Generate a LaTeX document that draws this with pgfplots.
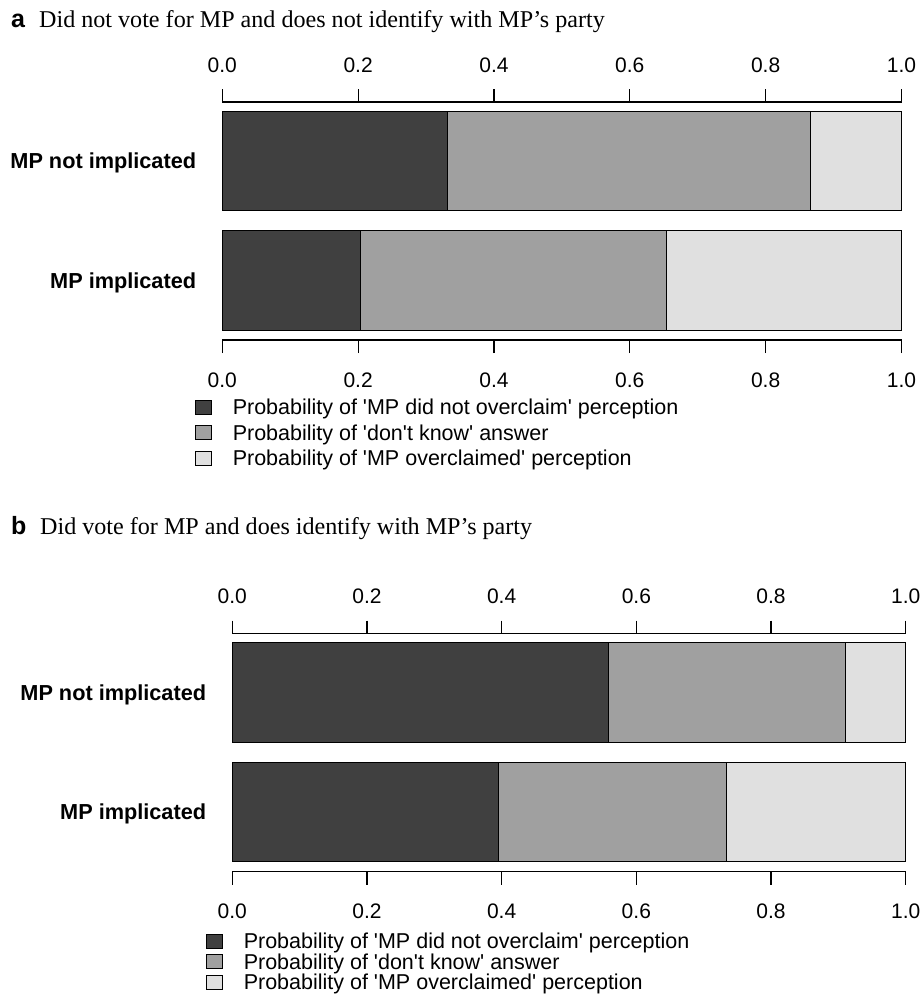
\documentclass[border=0pt]{standalone}
\usepackage{pgfplots}
\pgfplotsset{compat=1.18}
\usepackage{fontspec}
\setmainfont{Liberation Serif}
\setsansfont{Liberation Sans}
\definecolor{cdark}{RGB}{64,64,64}
\definecolor{cmid}{RGB}{160,160,160}
\definecolor{clight}{RGB}{224,224,224}
\newcommand\sq{\textquotesingle}
\pgfplotsset{
  panel/.style={scale only axis, height=238bp, xmin=0, xmax=1, ymin=0, ymax=238, clip=false,
    /pgf/number format/assume math mode=true},
  mainaxis/.style={panel,
    xbar stacked, bar width=99.5,
    separate axis lines,
    x axis line style={line width=1.2bp},
    y axis line style={draw=none},
    xtick={0,0.2,0.4,0.6,0.8,1}, xticklabels={0.0,0.2,0.4,0.6,0.8,1.0},
    xtick pos=both, tick align=outside, major tick length=13bp,
    x tick style={line width=1.2bp, black},
    xticklabel style={font=\sffamily\fontsize{21bp}{24bp}\selectfont, inner sep=0pt, anchor=north, yshift=-19.5bp},
    ytick={59.5,179}, yticklabels={MP implicated,MP not implicated},
    ytick pos=left, y tick style={draw=none},
    yticklabel style={font=\sffamily\bfseries\fontsize{21.7bp}{24bp}\selectfont, inner sep=0pt, anchor=base east, yshift=-7.7bp, xshift=-13bp},
    legend cell align=left,
  },
  topaxis/.style={panel,
    axis line style={draw=none}, tick style={draw=none}, tick align=inside, major tick length=0pt,
    xtick={0,0.2,0.4,0.6,0.8,1}, xticklabels={0.0,0.2,0.4,0.6,0.8,1.0},
    xticklabel pos=right, ytick=\empty,
    xticklabel style={font=\sffamily\fontsize{21bp}{24bp}\selectfont, inner sep=0pt, anchor=south, yshift=29.5bp},
  },
  barstyle/.style={fill=#1, draw=black, line width=1bp},
  legimgA/.style={legend image code/.code={\path[draw=none,fill=none] (0bp,-5.25bp) rectangle (37bp,20.25bp);
      \draw[##1,line width=0.9bp] (0bp,0.5bp) rectangle (16bp,14.5bp);}},
  legimgB/.style={legend image code/.code={\path[draw=none,fill=none] (0bp,-2.75bp) rectangle (37bp,17.75bp);
      \draw[##1,line width=0.9bp] (0bp,0.5bp) rectangle (16bp,14.5bp);}},
  legstyle/.style={legend style={draw=none, fill=none, inner sep=0pt, outer sep=0pt,
      row sep=0pt, column sep=0pt, at={(0,0)}, anchor=north west,
      font=\sffamily\fontsize{21.5bp}{24bp}\selectfont,
      nodes={inner sep=0pt, outer sep=0pt, text height=0pt, text depth=0pt}}},
}
\begin{document}
\begin{tikzpicture}
\path[use as bounding box] (0,0) rectangle (924bp,-1003bp);
% ---------- panel a ----------
\node[anchor=base west, inner sep=0pt] at (11bp,-27bp) {\sffamily\bfseries\fontsize{25bp}{28bp}\selectfont a};
\node[anchor=base west, inner sep=0pt] at (39bp,-27bp) {\fontsize{24.1bp}{27bp}\selectfont Did not vote for MP and does not identify with MP’s party};
\begin{axis}[mainaxis, legstyle, at={(222.3bp,-340bp)}, anchor=south west, width=679.2bp,
  legend style={xshift=-27bp, yshift=-54.25bp}]
\addplot[barstyle=cdark, legimgA] coordinates {(0.331,179) (0.204,59.5)};
\addlegendentry{Probability of \sq MP did not overclaim\sq\ perception}
\addplot[barstyle=cmid, legimgA] coordinates {(0.535,179) (0.450,59.5)};
\addlegendentry{Probability of \sq don\sq t know\sq\ answer}
\addplot[barstyle=clight, legimgA] coordinates {(0.134,179) (0.346,59.5)};
\addlegendentry{Probability of \sq MP overclaimed\sq\ perception}
\end{axis}
\begin{axis}[topaxis, at={(222.3bp,-340bp)}, anchor=south west, width=679.2bp]
\end{axis}
% ---------- panel b ----------
\node[anchor=base west, inner sep=0pt] at (11bp,-534bp) {\sffamily\bfseries\fontsize{25bp}{28bp}\selectfont b};
\node[anchor=base west, inner sep=0pt] at (40bp,-534bp) {\fontsize{24.1bp}{27bp}\selectfont Did vote for MP and does identify with MP’s party};
\begin{axis}[mainaxis, legstyle, at={(232.3bp,-871.5bp)}, anchor=south west, width=673.4bp,
  legend style={xshift=-26bp, yshift=-59.25bp}]
\addplot[barstyle=cdark, legimgB] coordinates {(0.559,179) (0.396,59.5)};
\addlegendentry{Probability of \sq MP did not overclaim\sq\ perception}
\addplot[barstyle=cmid, legimgB] coordinates {(0.351,179) (0.338,59.5)};
\addlegendentry{Probability of \sq don\sq t know\sq\ answer}
\addplot[barstyle=clight, legimgB] coordinates {(0.090,179) (0.266,59.5)};
\addlegendentry{Probability of \sq MP overclaimed\sq\ perception}
\end{axis}
\begin{axis}[topaxis, at={(232.3bp,-871.5bp)}, anchor=south west, width=673.4bp]
\end{axis}
\end{tikzpicture}
\end{document}
